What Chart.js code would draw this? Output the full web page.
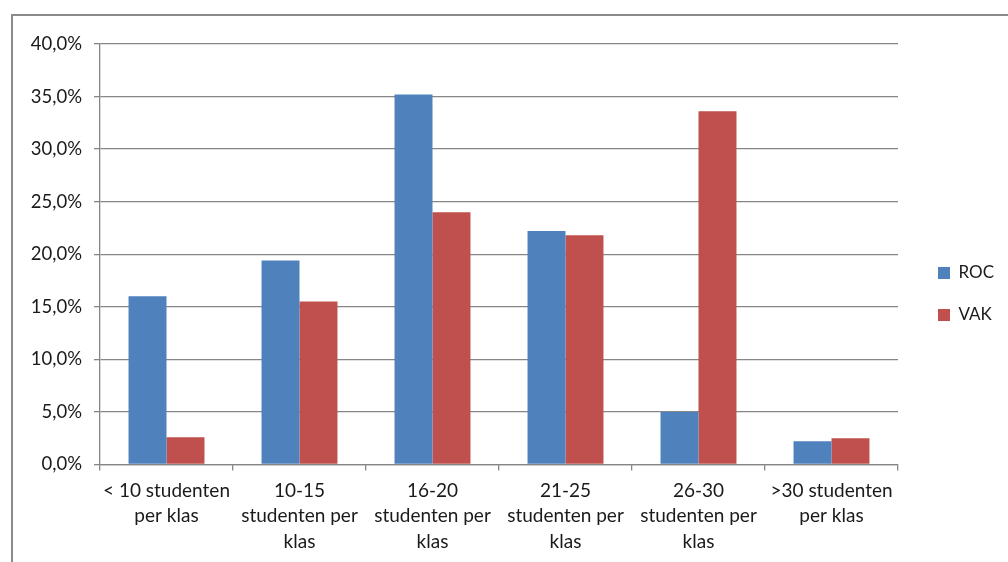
<!DOCTYPE html>
<html>
<head>
<meta charset="utf-8">
<script src="https://cdn.jsdelivr.net/npm/chart.js@4/dist/chart.umd.min.js"></script>
<style>
    html, body { margin: 0; padding: 0; background: #ffffff; overflow: hidden; }
    #frame {
        position: absolute;
        left: 11px;
        top: 14px;
        width: 995px;
        height: 546px;
        border-left: 2px solid #8a8a8a;
        border-top: 2px solid #8a8a8a;
    }
    #box { position: relative; width: 995px; height: 546px; }
</style>
</head>
<body>
<div id="frame"><div id="box"><canvas id="klasChart"></canvas></div></div>
<script>
// ==========================================
// DATA
// ==========================================

const categorieen = [
    ['< 10 studenten', 'per klas'],
    ['10-15', 'studenten per', 'klas'],
    ['16-20', 'studenten per', 'klas'],
    ['21-25', 'studenten per', 'klas'],
    ['26-30', 'studenten per', 'klas'],
    ['>30 studenten', 'per klas']
];

const rocWaarden = [16.0, 19.4, 35.2, 22.2, 5.0, 2.2];
const vakWaarden = [2.6, 15.5, 24.0, 21.8, 33.6, 2.5];

const yTicks = [0, 5, 10, 15, 20, 25, 30, 35, 40];

// ==========================================
// HELPERS
// ==========================================

function formatPercent(value) {
    return value.toFixed(1).replace('.', ',') + '%';
}

const gridKleur = '#868686';
const tekstKleur = '#1a1a1a';
const lettertype = "Lato, 'Open Sans', sans-serif";

// legend sits a bit right of the plot, like the Excel original
const legendShift = {
    id: 'legendShift',
    beforeInit(chart) {
        const origFit = chart.legend.fit;
        chart.legend.fit = function() {
            origFit.call(this);
            this.width = 110;
        };
    },
    afterLayout(chart) {
        chart.legend.left += 15;
        chart.legend.top -= 9;
        chart.legend.bottom -= 9;
    }
};

// ==========================================
// CHART
// ==========================================

const ctx = document.getElementById('klasChart').getContext('2d');

new Chart(ctx, {
    type: 'bar',
    data: {
        labels: categorieen,
        datasets: [{
            label: 'ROC',
            data: rocWaarden,
            backgroundColor: '#4f81bd',
            borderWidth: 0
        }, {
            label: 'VAK',
            data: vakWaarden,
            backgroundColor: '#c0504d',
            borderWidth: 0
        }]
    },
    options: {
        responsive: true,
        maintainAspectRatio: false,
        animation: false,
        categoryPercentage: 0.571,
        barPercentage: 1.0,
        layout: {
            padding: { top: 28, left: 0, right: 0, bottom: 0 }
        },
        plugins: {
            legend: {
                position: 'right',
                labels: {
                    boxWidth: 12,
                    boxHeight: 12,
                    padding: 25,
                    color: tekstKleur,
                    font: { size: 17, family: lettertype }
                }
            },
            tooltip: { enabled: false }
        },
        scales: {
            y: {
                min: 0,
                max: 40,
                afterBuildTicks(scale) {
                    scale.ticks = yTicks.map(v => ({ value: v }));
                },
                afterFit(scale) {
                    scale.width = 87;
                },
                ticks: {
                    padding: 12,
                    color: tekstKleur,
                    font: { size: 18.5, family: lettertype },
                    callback: function(value) {
                        return formatPercent(value);
                    }
                },
                grid: {
                    color: gridKleur,
                    lineWidth: 1.3,
                    tickLength: 6
                },
                border: { color: gridKleur, width: 1.3 }
            },
            x: {
                grid: {
                    drawOnChartArea: false,
                    color: gridKleur,
                    lineWidth: 1.3,
                    tickLength: 6,
                    offset: true
                },
                border: { color: gridKleur, width: 1.3 },
                ticks: {
                    maxRotation: 0,
                    autoSkip: false,
                    padding: 7,
                    color: tekstKleur,
                    font: { size: 19, family: lettertype, lineHeight: 1.36 }
                }
            }
        }
    },
    plugins: [legendShift]
});
</script>
</body>
</html>
